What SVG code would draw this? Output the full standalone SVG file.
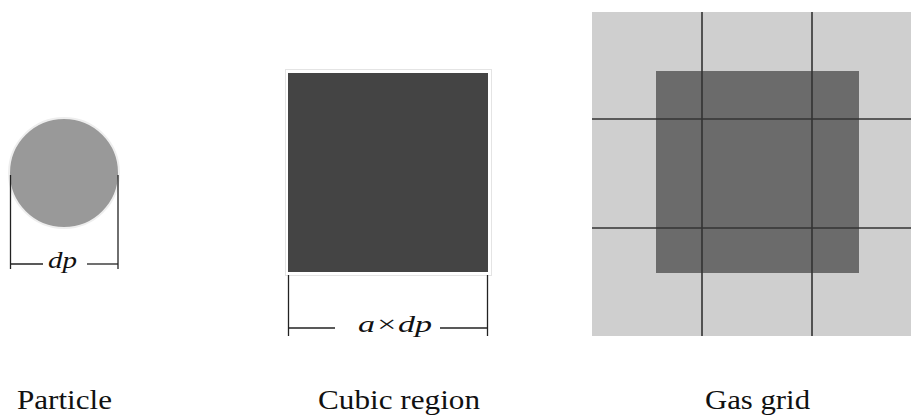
<svg xmlns="http://www.w3.org/2000/svg" width="911" height="416" viewBox="0 0 911 416">
<style>
.dim{stroke:#222;stroke-width:1.3;fill:none}
.grid{stroke:#333;stroke-width:1.6}
.lbl{font-family:"Liberation Serif","Times New Roman",serif;font-size:27px;fill:#111}
.math{font-family:"Liberation Serif","Times New Roman",serif;font-style:italic;font-size:24px;fill:#111}
</style>
<rect width="911" height="416" fill="#fff"/>
<g id="particle">
<circle cx="64" cy="173" r="55" fill="#999" stroke="#eee" stroke-width="2"/>
</g>
<g id="cubic-region">
<rect x="285.5" y="69.5" width="206" height="206" fill="#fff" stroke="#e4e4e4" stroke-width="1"/>
<rect x="288" y="73" width="200" height="199" fill="#444"/>
</g>
<g id="gas-grid">
<rect x="592" y="12" width="319" height="324" fill="#cfcfcf"/>
<rect x="656" y="71" width="203" height="202" fill="#6b6b6b"/>
<line class="grid" x1="702" y1="12" x2="702" y2="336"/>
<line class="grid" x1="812" y1="12" x2="812" y2="336"/>
<line class="grid" x1="592" y1="119" x2="911" y2="119"/>
<line class="grid" x1="592" y1="228" x2="911" y2="228"/>
</g>
<g id="connectors">
<line class="dim" x1="10.5" y1="175" x2="10.5" y2="269"/>
<line class="dim" x1="118" y1="175" x2="118" y2="269"/>
<line class="dim" x1="10.5" y1="264" x2="43" y2="264"/>
<line class="dim" x1="87" y1="264" x2="118" y2="264"/>
<line class="dim" x1="288.5" y1="275" x2="288.5" y2="336"/>
<line class="dim" x1="487.5" y1="275" x2="487.5" y2="336"/>
<line class="dim" x1="288.5" y1="328" x2="335" y2="328"/>
<line class="dim" x1="440" y1="328" x2="487.5" y2="328"/>
</g>
<text class="math" x="48" y="268" textLength="29" lengthAdjust="spacingAndGlyphs">dp</text>
<text class="math" x="358" y="332" textLength="74" lengthAdjust="spacingAndGlyphs">a×dp</text>
<text class="lbl" x="17" y="409" textLength="95" lengthAdjust="spacingAndGlyphs">Particle</text>
<text class="lbl" x="318" y="409" textLength="162" lengthAdjust="spacingAndGlyphs">Cubic region</text>
<text class="lbl" x="705" y="409" textLength="105" lengthAdjust="spacingAndGlyphs">Gas grid</text>
</svg>
